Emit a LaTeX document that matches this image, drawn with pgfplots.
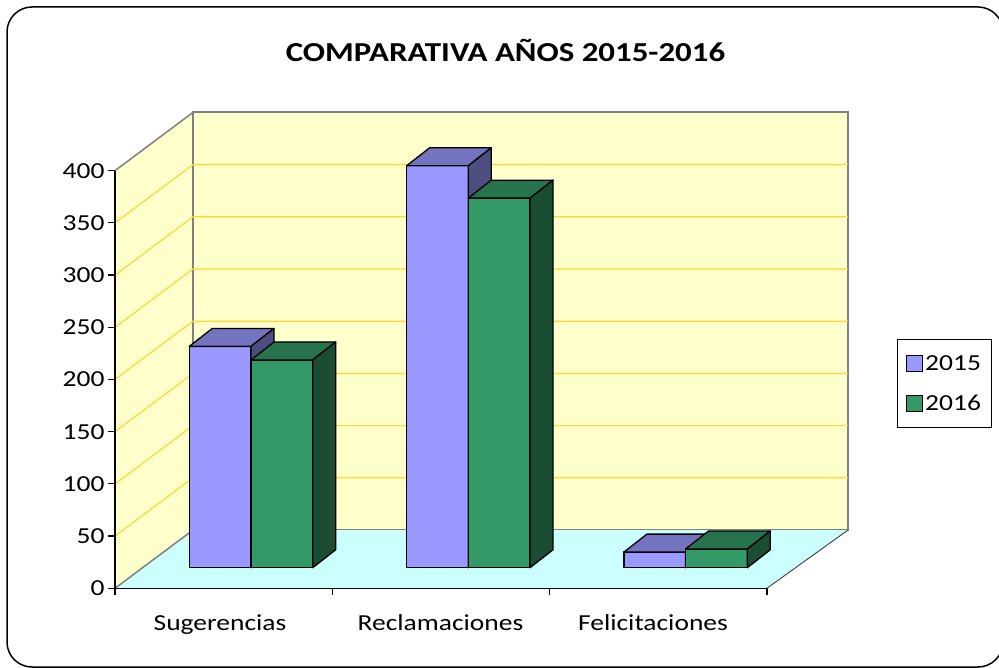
\documentclass[border=0pt]{standalone}
\usepackage{pgfplots}
\pgfplotsset{compat=1.18}
\usepackage{graphicx}
\usepackage{fontspec}
\setmainfont{Carlito}
\newcommand\sx[1]{\scalebox{1.2}[1]{#1}}
\definecolor{c15}{HTML}{9999FF}
\definecolor{c15t}{HTML}{7373BF}
\definecolor{c15s}{HTML}{4D4D80}
\definecolor{c16}{HTML}{339966}
\definecolor{c16t}{HTML}{26734C}
\definecolor{c16s}{HTML}{1A4D33}
\definecolor{wall}{HTML}{FFFFCC}
\definecolor{floorc}{HTML}{CCFFFF}
\definecolor{gridc}{RGB}{255,215,50}
\definecolor{edgec}{HTML}{808080}
% bar: #1 category index, #2 series index, #3 value, #4 front, #5 top, #6 side
\newcommand\drawbar[6]{%
  \pgfmathsetmacro\xa{74.3+217.3*#1+61.7*#2}%
  \pgfmathsetmacro\xb{\xa+61.7}%
  \pgfmathsetmacro\xc{\xb+23}%
  \pgfmathsetmacro\xd{\xa+23}%
  \pgfmathsetmacro\ya{19.7}%
  \pgfmathsetmacro\yb{19.7+#3}%
  \pgfmathsetmacro\yc{\yb+17.2}%
  \pgfmathsetmacro\yd{\ya+17.2}%
  \edef\temp{%
    \noexpand\addplot[forget plot,fill=#4,draw=black,line width=1.3bp,line join=round] coordinates {(\xa,\ya) (\xb,\ya) (\xb,\yb) (\xa,\yb)} --cycle;
    \noexpand\addplot[forget plot,fill=#5,draw=black,line width=1.3bp,line join=round] coordinates {(\xa,\yb) (\xb,\yb) (\xc,\yc) (\xd,\yc)} --cycle;
    \noexpand\addplot[forget plot,fill=#6,draw=black,line width=1.3bp,line join=round] coordinates {(\xb,\ya) (\xc,\yd) (\xc,\yc) (\xb,\yb)} --cycle;
  }\temp}
\begin{document}
\begin{tikzpicture}
\useasboundingbox (0,0) rectangle (999bp,668bp);
\fill[white] (0,0) rectangle (999bp,668bp);
\draw[line width=1.5bp, rounded corners=25bp] (7bp,1bp) rectangle (1003bp,661bp);
\node[font=\fontsize{27.5}{32}\selectfont\bfseries] at (505.5bp,618bp) {\sx{COMPARATIVA AÑOS 2015-2016}};
\begin{axis}[
  at={(115bp,79.7bp)}, anchor=south west,
  scale only axis, width=733bp, height=475.9bp,
  xmin=0, xmax=733, ymin=0, ymax=455.8,
  clip=false,
  axis x line*=bottom, axis y line*=left,
  axis line style={draw=none},
  ytick={0,50,...,400},
  yticklabel={\sx{\pgfmathprintnumber{\tick}}},
  xtick={105,325.5,538},
  xticklabels={\sx{Sugerencias},\sx{Reclamaciones},\sx{Felicitaciones}},
  xtick style={draw=none},
  extra x ticks={0,217.3,434.6,651.9},
  extra x tick labels={},
  extra x tick style={xtick style={draw=black,line width=1.2bp}, major tick length=7bp, tick align=outside},
  ytick style={draw=black,line width=1.2bp},
  major tick length=7bp, tick align=outside,
  tick label style={font=\fontsize{23}{27}\selectfont},
  xticklabel style={yshift=-16bp},
  /pgf/number format/assume math mode=true,
  legend style={at={(axis cs:781.7,238.5)}, anchor=north west, draw=black, line width=1bp,
    font=\fontsize{23}{27}\selectfont, row sep=19bp, inner xsep=9bp, inner ysep=13.5bp},
  legend image code/.code={\draw[#1] (0bp,-8bp) rectangle (16bp,8bp);},
  legend cell align=left,
]
% walls and floor
\addplot[forget plot,fill=wall,draw=none] coordinates {(0,0) (78,55.8) (78,455.8) (0,400)} --cycle;
\addplot[forget plot,fill=wall,draw=edgec,line width=2bp] coordinates {(78,55.8) (733,55.8) (733,455.8) (78,455.8)} --cycle;
\addplot[forget plot,fill=floorc,draw=none] coordinates {(0,0) (651.9,0) (733,55.8) (78,55.8)} --cycle;
\addplot[forget plot,draw=edgec,line width=1.5bp] coordinates {(0,400) (78,455.8)};
\addplot[forget plot,draw=edgec,line width=1.5bp] coordinates {(0,0) (78,55.8)};
\addplot[forget plot,draw=black!70,line width=1bp] coordinates {(651.9,0) (733,55.8)};
% gridlines
\addplot[forget plot,draw=gridc,line width=1.2bp] coordinates {(0,50) (78,105.8) (733,105.8)};
\addplot[forget plot,draw=gridc,line width=1.2bp] coordinates {(0,100) (78,155.8) (733,155.8)};
\addplot[forget plot,draw=gridc,line width=1.2bp] coordinates {(0,150) (78,205.8) (733,205.8)};
\addplot[forget plot,draw=gridc,line width=1.2bp] coordinates {(0,200) (78,255.8) (733,255.8)};
\addplot[forget plot,draw=gridc,line width=1.2bp] coordinates {(0,250) (78,305.8) (733,305.8)};
\addplot[forget plot,draw=gridc,line width=1.2bp] coordinates {(0,300) (78,355.8) (733,355.8)};
\addplot[forget plot,draw=gridc,line width=1.2bp] coordinates {(0,350) (78,405.8) (733,405.8)};
% axis lines
\addplot[forget plot,draw=black,line width=1.3bp] coordinates {(0,0) (0,400)};
\addplot[forget plot,draw=black,line width=1.3bp] coordinates {(0,0) (651.9,0)};
% bars: 2015 and 2016
\drawbar{0}{0}{212}{c15}{c15t}{c15s}
\drawbar{0}{1}{199}{c16}{c16t}{c16s}
\drawbar{1}{0}{385}{c15}{c15t}{c15s}
\drawbar{1}{1}{354}{c16}{c16t}{c16s}
\drawbar{2}{0}{15}{c15}{c15t}{c15s}
\drawbar{2}{1}{18}{c16}{c16t}{c16s}
\addlegendimage{fill=c15,draw=black,line width=1bp}
\addlegendentry{\sx{2015}}
\addlegendimage{fill=c16,draw=black,line width=1bp}
\addlegendentry{\sx{2016}}
\end{axis}
\end{tikzpicture}
\end{document}
